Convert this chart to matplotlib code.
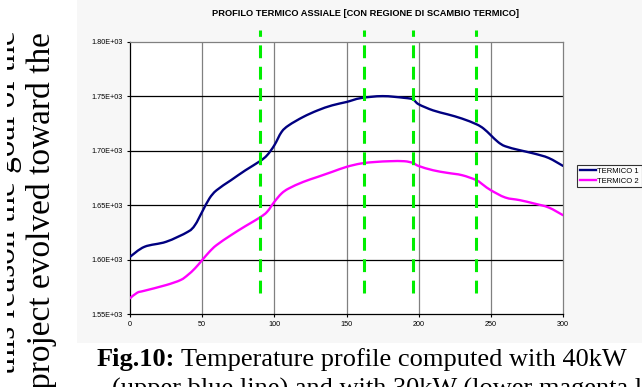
import matplotlib
matplotlib.use("Agg")
import matplotlib.pyplot as plt
import numpy as np
from matplotlib.patches import Rectangle, PathPatch
from matplotlib.path import Path
from matplotlib.lines import Line2D
from matplotlib.transforms import Bbox

# ---- data ----
x1 = [0, 10, 25, 40, 45, 50, 55, 60, 70, 80, 90, 95, 100, 105, 110, 120, 130, 140, 150,
      160, 175, 190, 196, 200, 210, 220, 230, 240, 245, 250, 255, 260, 270, 280, 290, 300]
termico1 = [1602.7, 1611.9, 1616.5, 1625.6, 1631.8, 1644.0, 1656.2, 1663.8, 1673.0, 1682.1,
            1690.4, 1695.9, 1705.0, 1717.2, 1723.3, 1731.0, 1737.0, 1741.6, 1744.7,
            1748.3, 1750.1, 1748.5, 1747.1, 1742.6, 1737.0, 1733.4, 1729.5, 1724.3, 1720.3,
            1714.2, 1708.0, 1704.1, 1700.5, 1697.4, 1693.4, 1686.1]
x2 = [0, 5, 10, 25, 35, 40, 45, 50, 55, 60, 70, 80, 90, 95, 100, 105, 110, 120, 130, 140,
      150, 160, 170, 180, 190, 196, 200, 210, 220, 230, 240, 245, 250, 260, 270, 280, 290, 300]
termico2 = [1564.7, 1569.8, 1571.6, 1576.8, 1581.4, 1586.0, 1592.1, 1599.7, 1607.3, 1613.5,
            1622.6, 1630.9, 1638.8, 1644.0, 1653.1, 1660.8, 1665.4, 1671.4, 1676.0, 1680.6,
            1685.2, 1688.3, 1689.7, 1690.4, 1690.4, 1688.8, 1686.0, 1682.1, 1679.7, 1677.6,
            1673.0, 1668.4, 1663.8, 1657.1, 1654.7, 1651.6, 1648.0, 1640.9]
exchange_x = [90, 162, 196, 240]
series_names = ["TERMICO 1", "TERMICO 2"]
series_colors = ["#000080", "#ff00ff"]
title = "PROFILO TERMICO ASSIALE [CON REGIONE DI SCAMBIO TERMICO]"
yticks = [1550, 1600, 1650, 1700, 1750, 1800]
ytick_labels = ["1.55E+03", "1.60E+03", "1.65E+03", "1.70E+03", "1.75E+03", "1.80E+03"]
xticks = [0, 50, 100, 150, 200, 250, 300]


def smooth_path(xs, ys, tension=1 / 6):
    """Excel-style smoothed line: cubic Bezier segments through the data points."""
    p = np.column_stack([xs, ys]).astype(float)
    n = len(p)
    verts = [p[0]]
    codes = [Path.MOVETO]
    for i in range(n - 1):
        p0 = p[i - 1] if i > 0 else p[i]
        p1, p2 = p[i], p[i + 1]
        p3 = p[i + 2] if i + 2 < n else p[i + 1]
        c1 = p1 + (p2 - p0) * tension
        c2 = p2 - (p3 - p1) * tension
        verts += [c1, c2, p2]
        codes += [Path.CURVE4] * 3
    return Path(verts, codes)


W, H = 642, 387
fig = plt.figure(figsize=(W / 100, H / 100), dpi=100)
fig.patch.set_facecolor("white")
# faint grey background of the embedded chart image
fig.patches.append(Rectangle((77 / W, 1 - 343 / H), 1 - 77 / W, 343 / H,
                             transform=fig.transFigure, facecolor="#f7f7f7",
                             edgecolor="none", zorder=-10))

ax = fig.add_axes([130 / W, 1 - 314.3 / H, 433 / W, 272.6 / H])
ax.set_facecolor("white")
ax.set_xlim(0, 300)
ax.set_ylim(1550, 1800)

for xv in xticks[1:-1]:
    ax.axvline(xv, color="#808080", lw=0.9, zorder=1)
for yv in yticks[1:-1]:
    ax.axhline(yv, color="black", lw=0.9, zorder=1)

handles = []
for xs, ys, name, col in zip([x1, x2], [termico1, termico2], series_names, series_colors):
    ax.add_patch(PathPatch(smooth_path(xs, ys), facecolor="none", edgecolor=col,
                           lw=1.7, zorder=3, capstyle="round", joinstyle="round"))
    handles.append(Line2D([], [], color=col, lw=1.7, label=name))

for xv in exchange_x:
    ax.plot([xv, xv], [1569.5, 1810.5], color="#00ee00", lw=2.2,
            dashes=(4.2, 2.8), clip_on=False, zorder=4)

ax.set_xticks(xticks)
ax.set_yticks(yticks)
ax.set_yticklabels(ytick_labels)
ax.tick_params(axis="both", labelsize=5.2, length=2.5, width=0.8, direction="out",
               colors="black", pad=2)
ax.tick_params(axis="y", pad=3)
for s in ["left", "bottom"]:
    ax.spines[s].set_color("black")
    ax.spines[s].set_linewidth(0.9)
for s in ["top", "right"]:
    ax.spines[s].set_color("#808080")
    ax.spines[s].set_linewidth(0.9)

for lab in ax.get_xticklabels() + ax.get_yticklabels():
    lab.set_family("Liberation Sans")

fig.text(365 / W, 1 - 14 / H, title, ha="center", va="center", fontsize=6.7,
         fontweight="bold", family="Liberation Sans")

leg = ax.legend(handles=handles, loc="upper left", bbox_to_anchor=(577 / W, 1 - 165 / H),
                bbox_transform=fig.transFigure, frameon=True,
                fancybox=False, edgecolor="black", handlelength=2.2,
                handletextpad=0.1, borderpad=0.35, labelspacing=0.3,
                borderaxespad=0, prop={"family": "Liberation Sans", "size": 5.5})
leg.get_frame().set_linewidth(0.8)

# surrounding page text (rotated column on the left, caption below)
fig.text(50 / W, 1 - 32 / H, "project evolved toward the", rotation=90,
         rotation_mode="anchor", ha="right", va="baseline", fontsize=24,
         family="Liberation Serif")
partial = fig.text(15 / W, 1 - 30 / H, "this reason the goal of the", rotation=90,
                   rotation_mode="anchor", ha="right", va="baseline", fontsize=24,
                   family="Liberation Serif")
partial.set_clip_box(Bbox.from_extents(7, 0, W, H))
partial.set_clip_on(True)
fig.text(97 / W, 1 - 366 / H, "Fig.10:", ha="left", va="baseline", fontsize=19,
         family="Liberation Serif", fontweight="bold")
fig.text(181 / W, 1 - 366 / H, "Temperature profile computed with 40kW", ha="left",
         va="baseline", fontsize=19, family="Liberation Serif")
fig.text(112 / W, 1 - 396 / H, "(upper blue line) and with 30kW (lower magenta line)",
         ha="left", va="baseline", fontsize=19, family="Liberation Serif")

fig.savefig("out.png", dpi=100, facecolor="white")
